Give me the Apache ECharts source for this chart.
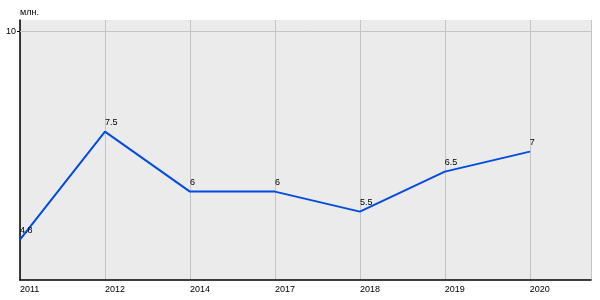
<!DOCTYPE html>
<html><head><meta charset="utf-8">
<script src="https://cdn.jsdelivr.net/npm/echarts@6/dist/echarts.min.js"></script>
<style>html,body{margin:0;padding:0;background:#fff}#c{width:600px;height:300px}</style>
</head><body><div id="c"></div>
<script>
const categories = ['2011','2012','2014','2017','2018','2019','2020'];
const values = [4.8, 7.5, 6, 6, 5.5, 6.5, 7];
const yTickValues = [10];
const unitLabel = 'млн.';

const chart = echarts.init(document.getElementById('c'), null, {renderer:'canvas'});
const font = 'Liberation Sans, Arial, sans-serif';
chart.setOption({
  animation: false,
  grid: {left: 20, right: 9, top: 20, bottom: 20, show: true, backgroundColor: '#ebebeb', borderWidth: 0, outerBoundsMode: 'none', containLabel: false},
  xAxis: {
    type: 'value', min: 0, max: 6.72, interval: 1,
    axisLine: {show: true, onZero: false, lineStyle: {color: '#000', width: 1.5}},
    axisTick: {show: false},
    splitLine: {show: true, lineStyle: {color: '#c4c4c4', width: 1}},
    axisLabel: {
      color: '#000', fontFamily: font, fontSize: 9, align: 'left', margin: 5,
      showMaxLabel: false, hideOverlap: false,
      formatter: v => (Number.isInteger(v) && categories[v]) ? categories[v] : ''
    }
  },
  yAxis: {
    type: 'value', min: 3.79, max: 10.29,
    name: unitLabel, nameLocation: 'end', nameGap: 3,
    nameTextStyle: {color: '#000', fontFamily: font, fontSize: 9, align: 'left'},
    axisLine: {show: true, lineStyle: {color: '#000', width: 1.5}},
    axisTick: {show: true, length: 3, customValues: yTickValues, lineStyle: {color: '#000'}},
    axisLabel: {show: true, customValues: yTickValues, color: '#000', fontFamily: font, fontSize: 9, margin: 4},
    splitLine: {show: false}
  },
  series: [{
    type: 'line',
    data: values.map((v, i) => [i, v]),
    symbol: 'circle', symbolSize: 1, showSymbol: true,
    itemStyle: {color: '#004BE0'},
    lineStyle: {color: '#004BE0', width: 2},
    label: {
      show: true, position: 'top', align: 'left', distance: 4,
      color: '#000', fontFamily: font, fontSize: 9,
      formatter: p => String(p.value[1])
    },
    markLine: {
      silent: true, symbol: 'none', label: {show: false},
      lineStyle: {color: '#c4c4c4', type: 'solid', width: 1},
      data: yTickValues.map(v => ({yAxis: v}))
    }
  }]
});
</script></body></html>
